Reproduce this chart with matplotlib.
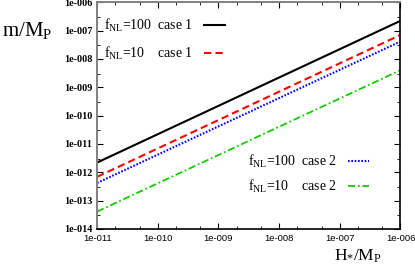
import matplotlib
matplotlib.use("Agg")
import matplotlib.pyplot as plt
import numpy as np
from matplotlib.ticker import LogLocator, FuncFormatter, NullFormatter

plt.rcParams['mathtext.fontset'] = 'custom'
plt.rcParams['mathtext.rm'] = 'Liberation Serif'
plt.rcParams['mathtext.it'] = 'Liberation Serif:italic'

# data (log-log straight lines, end points)
H = [1e-11, 1e-6]
m_100_case1 = [2.2e-12, 2.2e-7]
m_10_case1 = [6.9e-13, 7.0e-8]
m_100_case2 = [4.2e-13, 4.1e-8]
m_10_case2 = [4.1e-14, 4.0e-9]

fig = plt.figure(figsize=(4.15, 2.7), dpi=100)
ax = fig.add_axes([0.234, 0.152, 0.731, 0.84])

l1, = ax.plot(H, m_100_case1, color="black", lw=1.5)
l2, = ax.plot(H, m_10_case1, color="red", lw=1.5, dashes=(3.5, 2))
l3, = ax.plot(H, m_100_case2, color="blue", lw=1.5, dashes=(0.8, 0.8))
l4, = ax.plot(H, m_10_case2, color="#11cc00", lw=1.3, dashes=(4, 1.5, 1, 1.5))

ax.set_xscale("log")
ax.set_yscale("log")
ax.set_xlim(1e-11, 1e-6)
ax.set_ylim(1e-14, 1e-6)

fmt = FuncFormatter(lambda v, p: "1e-%03d" % int(round(-np.log10(v))))
ax.xaxis.set_major_locator(LogLocator(base=10, numticks=20))
ax.yaxis.set_major_locator(LogLocator(base=10, numticks=20))
ax.xaxis.set_major_formatter(fmt)
ax.yaxis.set_major_formatter(fmt)
ax.xaxis.set_minor_locator(LogLocator(base=10, subs=(2, 5), numticks=20))
ax.yaxis.set_minor_locator(LogLocator(base=10, subs=(3,), numticks=20))
ax.xaxis.set_minor_formatter(NullFormatter())
ax.yaxis.set_minor_formatter(NullFormatter())
ax.tick_params(which="both", direction="in", top=True, right=True)
ax.tick_params(which="major", length=4, width=0.8)
ax.tick_params(which="minor", length=2, width=0.6)
for lab in ax.get_xticklabels():
    lab.set_fontfamily("Liberation Sans")
    lab.set_fontsize(6.8)
for lab in ax.get_yticklabels():
    lab.set_fontfamily("Liberation Serif")
    lab.set_fontsize(7.3)
    lab.set_fontweight("bold")

for s in ["top", "left"]:
    ax.spines[s].set_color("#808080")
    ax.spines[s].set_linewidth(1.4)
for s in ["bottom", "right"]:
    ax.spines[s].set_color("black")
    ax.spines[s].set_linewidth(1.2)

leg1 = ax.legend([l1, l2], [r"f$_{\rm NL}$=100  case 1", r"f$_{\rm NL}$=10    case 1"],
                 loc="upper left", bbox_to_anchor=(-0.02, 0.99), frameon=False,
                 markerfirst=False, handlelength=1.5, labelspacing=0.75,
                 prop={"family": "Liberation Serif", "size": 10})
ax.add_artist(leg1)
ax.legend([l3, l4], [r"f$_{\rm NL}$=100  case 2", r"f$_{\rm NL}$=10    case 2"],
          loc="upper left", bbox_to_anchor=(0.455, 0.39), frameon=False,
          markerfirst=False, handlelength=1.5, labelspacing=0.55,
          prop={"family": "Liberation Serif", "size": 10})

fig.text(0.005, 0.865, r"m/M$_{\rm P}$", fontsize=15, family="Liberation Serif")
fig.text(0.805, 0.035, r"H$_{*}$/M$_{\rm P}$", fontsize=12.5, family="Liberation Serif")

fig.savefig("out.png", dpi=100)
